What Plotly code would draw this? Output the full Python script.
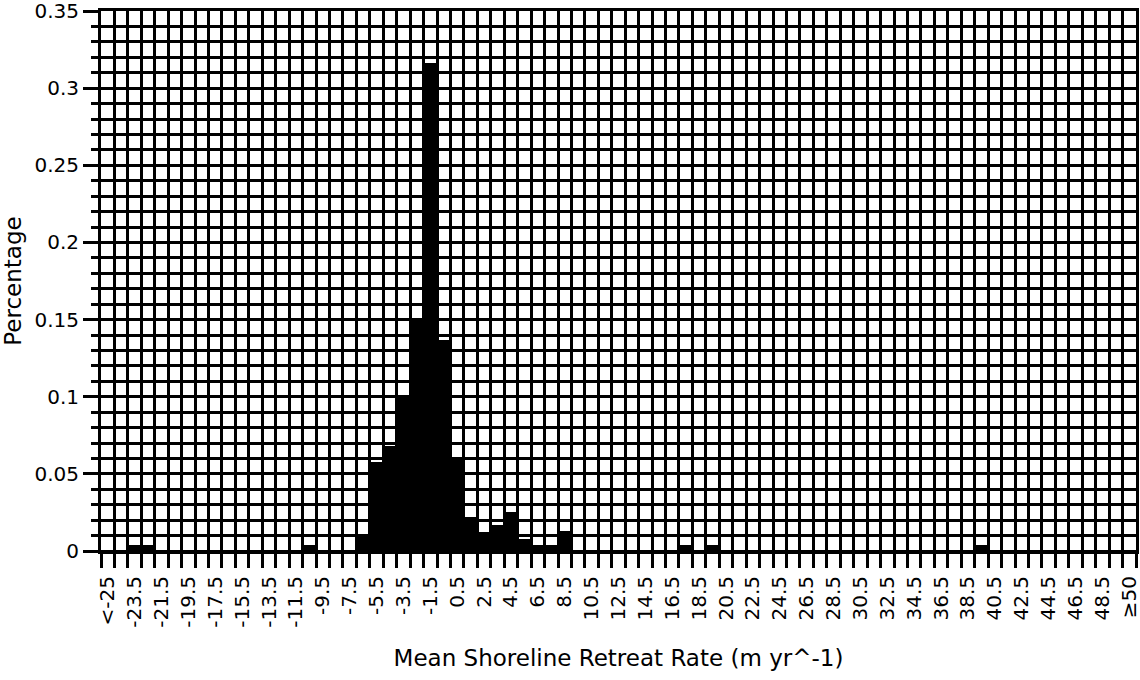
import plotly.graph_objects as go

# Histogram bins (class labels) of mean shoreline retreat rate
bin_labels = [
    "<-25", "-24.5", "-23.5", "-22.5", "-21.5", "-20.5", "-19.5", "-18.5", "-17.5", "-16.5",
    "-15.5", "-14.5", "-13.5", "-12.5", "-11.5", "-10.5", "-9.5", "-8.5", "-7.5", "-6.5",
    "-5.5", "-4.5", "-3.5", "-2.5", "-1.5", "-0.5", "0.5", "1.5", "2.5", "3.5",
    "4.5", "5.5", "6.5", "7.5", "8.5", "9.5", "10.5", "11.5", "12.5", "13.5",
    "14.5", "15.5", "16.5", "17.5", "18.5", "19.5", "20.5", "21.5", "22.5", "23.5",
    "24.5", "25.5", "26.5", "27.5", "28.5", "29.5", "30.5", "31.5", "32.5", "33.5",
    "34.5", "35.5", "36.5", "37.5", "38.5", "39.5", "40.5", "41.5", "42.5", "43.5",
    "44.5", "45.5", "46.5", "47.5", "48.5", "49.5", "≥50",
]

# Share of shoreline in each bin
shares = [
    0, 0, 0.004, 0.004, 0, 0, 0, 0, 0, 0,
    0, 0, 0, 0, 0, 0.004, 0, 0, 0, 0.010,
    0.058, 0.068, 0.101, 0.150, 0.316, 0.137, 0.060, 0.022, 0.012, 0.017,
    0.025, 0.008, 0.004, 0.004, 0.013, 0, 0, 0, 0, 0,
    0, 0, 0, 0.004, 0, 0.004, 0, 0, 0, 0,
    0, 0, 0, 0, 0, 0, 0, 0, 0, 0,
    0, 0, 0, 0, 0, 0.004, 0, 0, 0, 0,
    0, 0, 0, 0, 0, 0, 0,
]

# Tick labels shown on the x axis (every other bin)
tick_labels = [
    "<-25", "-23.5", "-21.5", "-19.5", "-17.5", "-15.5", "-13.5", "-11.5", "-9.5", "-7.5",
    "-5.5", "-3.5", "-1.5", "0.5", "2.5", "4.5", "6.5", "8.5", "10.5", "12.5",
    "14.5", "16.5", "18.5", "20.5", "22.5", "24.5", "26.5", "28.5", "30.5", "32.5",
    "34.5", "36.5", "38.5", "40.5", "42.5", "44.5", "46.5", "48.5", "≥50",
]

x_pos = list(range(len(bin_labels)))
tick_pos = [bin_labels.index(t) for t in tick_labels]

FONT = "DejaVu Sans"

fig = go.Figure(
    go.Bar(
        x=x_pos,
        y=shares,
        width=1,
        customdata=bin_labels,
        hovertemplate="%{customdata}: %{y}<extra></extra>",
        marker=dict(color="black", line=dict(width=0)),
    )
)

fig.update_layout(
    width=1140,
    height=680,
    margin=dict(l=101, r=4, t=11, b=129),
    paper_bgcolor="white",
    plot_bgcolor="white",
    font=dict(family=FONT, size=20, color="black"),
    showlegend=False,
    bargap=0,
)

fig.update_xaxes(
    automargin=False,
    range=[-0.5, len(bin_labels) - 0.5],
    tickmode="array",
    tickvals=tick_pos,
    ticktext=tick_labels,
    tickangle=-90,
    ticks="outside",
    ticklen=14,
    tickcolor="rgba(0,0,0,0)",
    tickfont=dict(family=FONT, size=20),
    ticklabeloverflow="allow",
    showgrid=False,
    zeroline=False,
    showline=True,
    linecolor="black",
    linewidth=3,
    mirror=True,
    minor=dict(
        tickmode="linear",
        tick0=-0.5,
        dtick=1,
        ticks="outside",
        ticklen=14,
        tickwidth=2.5,
        tickcolor="black",
        showgrid=True,
        gridcolor="black",
        gridwidth=2.5,
    ),
    title=dict(text="Mean Shoreline Retreat Rate (m yr^-1)", standoff=24,
               font=dict(family=FONT, size=23)),
)

fig.update_yaxes(
    automargin=False,
    range=[0, 0.35],
    tickmode="array",
    tickvals=[0, 0.05, 0.1, 0.15, 0.2, 0.25, 0.3, 0.35],
    ticktext=["0", "0.05", "0.1", "0.15", "0.2", "0.25", "0.3", "0.35"],
    ticks="outside",
    ticklen=15,
    tickwidth=3,
    tickcolor="black",
    tickfont=dict(family=FONT, size=20),
    ticklabeloverflow="allow",
    showgrid=True,
    gridcolor="black",
    gridwidth=3,
    zeroline=True,
    zerolinecolor="black",
    zerolinewidth=3,
    showline=True,
    linecolor="black",
    linewidth=3,
    mirror=True,
    minor=dict(
        tickmode="linear",
        tick0=0,
        dtick=0.01,
        ticks="outside",
        ticklen=7,
        tickwidth=2.5,
        tickcolor="black",
        showgrid=True,
        gridcolor="black",
        gridwidth=2.5,
    ),
    title=dict(text="Percentage", standoff=12, font=dict(family=FONT, size=23)),
)

fig.write_html("out.html")
